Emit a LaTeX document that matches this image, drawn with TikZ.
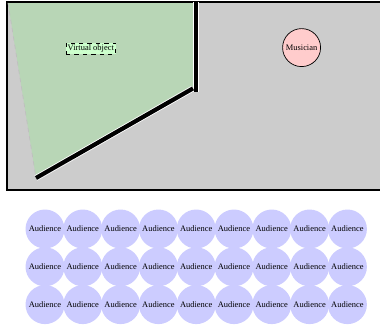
\documentclass[tikz,border=0pt]{standalone}
\usepackage{fontspec}
\setmainfont{Liberation Serif}
\definecolor{roomgray}{RGB}{204,204,204}
\definecolor{viewgreen}{RGB}{184,214,182}
\definecolor{objgreen}{RGB}{204,255,204}
\definecolor{musicpink}{RGB}{255,204,204}
\definecolor{audblue}{RGB}{204,204,255}
\tikzset{
  wall/.style={line width=3pt,black},
  audience/.style={circle,fill=audblue,minimum size=0.975cm,inner sep=0pt,font=\fontsize{6}{7}\selectfont},
  musician/.style={circle,draw=black,fill=musicpink,line width=0.5pt,minimum size=0.95cm,inner sep=0pt,font=\fontsize{6}{7}\selectfont},
  virtualobj/.style={draw=black,dashed,fill=objgreen,line width=0.5pt,inner sep=1.2pt,font=\fontsize{6}{7}\selectfont}
}
\begin{document}
\begin{tikzpicture}
\useasboundingbox (0.000,0.000) rectangle (9.500,-8.100);
\fill[roomgray] (0.175,-0.050) rectangle (9.500,-4.750);
\draw[black,line width=0.8pt] (9.500,-0.050) -- (0.175,-0.050) -- (0.175,-4.750) -- (9.500,-4.750);
\fill[viewgreen] (0.200,-0.075) -- (4.825,-0.075) -- (4.825,-2.225) -- (0.900,-4.450) -- cycle;
\draw[black!25,dashed,line width=0.5pt] (0.200,-0.075) -- (0.900,-4.450);
\draw[white,line width=4.2pt] (4.900,-0.050) -- (4.900,-2.300);
\draw[white,line width=4.2pt] (0.900,-4.450) -- (4.825,-2.210);
\draw[wall] (4.900,-0.050) -- (4.900,-2.300);
\draw[wall] (0.900,-4.450) -- (4.825,-2.210);
\node[virtualobj] (virtual) at (2.270,-1.210) {Virtual object};
\node[musician] (musician) at (7.540,-1.190) {Musician};
\node[audience] (aud11) at (1.125,-5.725) {Audience};
\node[audience] (aud12) at (2.070,-5.725) {Audience};
\node[audience] (aud13) at (3.015,-5.725) {Audience};
\node[audience] (aud14) at (3.960,-5.725) {Audience};
\node[audience] (aud15) at (4.905,-5.725) {Audience};
\node[audience] (aud16) at (5.850,-5.725) {Audience};
\node[audience] (aud17) at (6.795,-5.725) {Audience};
\node[audience] (aud18) at (7.740,-5.725) {Audience};
\node[audience] (aud19) at (8.685,-5.725) {Audience};
\node[audience] (aud21) at (1.125,-6.670) {Audience};
\node[audience] (aud22) at (2.070,-6.670) {Audience};
\node[audience] (aud23) at (3.015,-6.670) {Audience};
\node[audience] (aud24) at (3.960,-6.670) {Audience};
\node[audience] (aud25) at (4.905,-6.670) {Audience};
\node[audience] (aud26) at (5.850,-6.670) {Audience};
\node[audience] (aud27) at (6.795,-6.670) {Audience};
\node[audience] (aud28) at (7.740,-6.670) {Audience};
\node[audience] (aud29) at (8.685,-6.670) {Audience};
\node[audience] (aud31) at (1.125,-7.615) {Audience};
\node[audience] (aud32) at (2.070,-7.615) {Audience};
\node[audience] (aud33) at (3.015,-7.615) {Audience};
\node[audience] (aud34) at (3.960,-7.615) {Audience};
\node[audience] (aud35) at (4.905,-7.615) {Audience};
\node[audience] (aud36) at (5.850,-7.615) {Audience};
\node[audience] (aud37) at (6.795,-7.615) {Audience};
\node[audience] (aud38) at (7.740,-7.615) {Audience};
\node[audience] (aud39) at (8.685,-7.615) {Audience};
\end{tikzpicture}
\end{document}
